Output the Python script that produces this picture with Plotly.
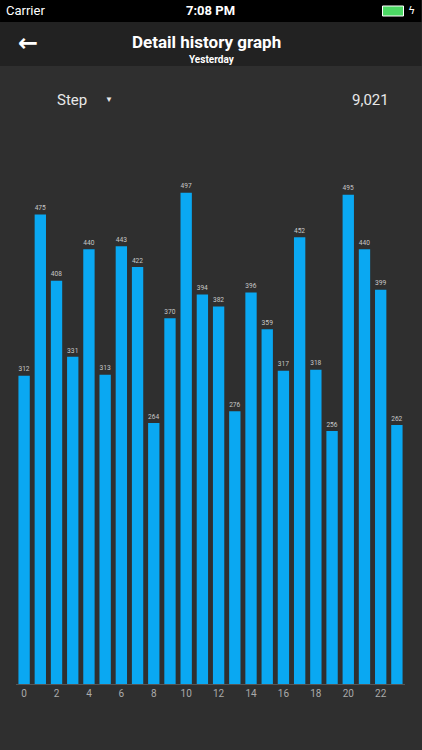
import plotly.graph_objects as go

hours = list(range(24))
steps = [312, 475, 408, 331, 440, 313, 443, 422, 264, 370, 497, 394,
         382, 276, 396, 359, 317, 452, 318, 256, 495, 440, 399, 262]
tick_vals = list(range(0, 24, 2))

W, H = 422, 750
L, R, T, B = 16, 16.5, 91, 66


def px(x):
    return (x - L) / (W - L - R)


def py(y):
    return (H - B - y) / (H - B - T)


fig = go.Figure()
fig.add_trace(go.Bar(
    x=hours, y=steps, width=0.7,
    marker=dict(color="#0aa8f2", line_width=0),
    text=[str(v) for v in steps], textposition="outside",
    textfont=dict(color="#c8c8c8", size=10, family="Roboto"),
    cliponaxis=False, hoverinfo="skip",
))

shapes = [
    dict(type="rect", xref="paper", yref="paper", x0=px(0), x1=px(W), y0=py(22), y1=py(0),
         fillcolor="#000000", line_width=0, layer="below"),
    dict(type="rect", xref="paper", yref="paper", x0=px(0), x1=px(W), y0=py(66), y1=py(22),
         fillcolor="#222222", line_width=0, layer="below"),
    dict(type="rect", xref="paper", yref="paper", x0=px(383), x1=px(404), y0=py(16), y1=py(6),
         fillcolor="#4cd964", line=dict(color="#ffffff", width=1)),
]


def ann(x, y, text, size, color="#ffffff", anchor="center", bold=False, family="Roboto"):
    return dict(x=px(x), y=py(y), xref="paper", yref="paper", text=f"<b>{text}</b>" if bold else text,
                showarrow=False, xanchor=anchor, yanchor="middle",
                font=dict(size=size, color=color, family=family))


annotations = [
    ann(4, 11, "Carrier", 13, anchor="left"),
    ann(211, 11, "7:08 PM", 13, bold=True),
    ann(412, 11, "ϟ", 11, family="DejaVu Sans"),
    ann(28, 43, "←", 24, bold=True, family="DejaVu Sans"),
    ann(207, 42, "Detail history graph", 17, bold=True),
    ann(212, 59, "Yesterday", 10, bold=True),
    ann(55, 100, "Step", 15, color="#e8e8e8", anchor="left"),
    ann(109, 100, "▼", 8, color="#e8e8e8"),
    ann(391, 100, "9,021", 15, color="#e8e8e8", anchor="right"),
]

fig.update_layout(
    width=W, height=H,
    margin=dict(l=L, r=R, t=T, b=B),
    paper_bgcolor="#2f2f2f", plot_bgcolor="#2f2f2f",
    showlegend=False,
    shapes=shapes, annotations=annotations,
    xaxis=dict(range=[-0.5, 23.5], tickvals=tick_vals, showgrid=False, zeroline=False,
               showline=True, linecolor="#555555", linewidth=1, ticks="",
               tickfont=dict(color="#aaaaaa", size=10, family="Roboto")),
    yaxis=dict(range=[0, 600], visible=False, showgrid=False, zeroline=False),
)

fig.write_html("out.html", config={"displayModeBar": False},
               post_script="document.body.style.margin='0';document.body.style.background='#2f2f2f';")
